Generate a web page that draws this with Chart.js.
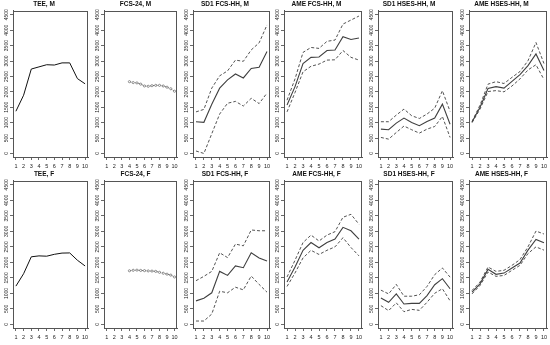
<!DOCTYPE html>
<html>
<head>
<meta charset="utf-8">
<script src="https://cdn.jsdelivr.net/npm/chart.js@4.4.1/dist/chart.umd.min.js"></script>
<style>
  html, body { margin: 0; padding: 0; background: #fff; }
  #wrap { position: relative; width: 550px; height: 345px; overflow: hidden; }
  #wrap canvas { position: absolute; }
</style>
</head>
<body>
<div id="wrap"></div>
<script>
// x axis (deciles 1..10) and y ticks
const xVals = [1, 2, 3, 4, 5, 6, 7, 8, 9, 10];
const fcsX = [4, 4.5, 5, 5.5, 6, 6.5, 7, 7.5, 8, 8.5, 9, 9.5, 10];
const yTicks = [0, 500, 1000, 1500, 2000, 2500, 3000, 3500, 4000, 4500];

// males
const teeM = [1370, 1890, 2740, 2810, 2880, 2870, 2940, 2940, 2430, 2260];
const fcs24M = [2330, 2300, 2290, 2250, 2190, 2180, 2200, 2210, 2210, 2190, 2150, 2100, 2020];
const sd1FcsM = [1030, 1010, 1600, 2120, 2390, 2580, 2450, 2760, 2800, 3310];
const sd1FcsMUp = [1350, 1430, 2120, 2520, 2680, 3030, 2990, 3360, 3590, 4170];
const sd1FcsMLo = [80, 0, 640, 1280, 1630, 1690, 1540, 1790, 1620, 1960];
const ameFcsM = [1570, 2170, 2920, 3120, 3130, 3340, 3360, 3790, 3700, 3750];
const ameFcsMUp = [1730, 2420, 3280, 3440, 3410, 3640, 3680, 4200, 4330, 4460];
const ameFcsMLo = [1350, 1980, 2650, 2830, 2900, 3030, 3040, 3340, 3120, 3030];
const sd1HsesM = [790, 770, 985, 1150, 1005, 900, 1040, 1150, 1600, 950];
const sd1HsesMUp = [1030, 1030, 1245, 1440, 1225, 1135, 1280, 1470, 2035, 1365];
const sd1HsesMLo = [520, 465, 680, 890, 770, 660, 790, 875, 1200, 520];
const ameHsesM = [1020, 1500, 2110, 2170, 2120, 2340, 2560, 2850, 3230, 2690];
const ameHsesMUp = [1040, 1570, 2250, 2330, 2270, 2470, 2660, 3010, 3600, 2920];
const ameHsesMLo = [1000, 1440, 2010, 2040, 2000, 2190, 2420, 2710, 2880, 2400];

// females
const teeF = [1235, 1635, 2180, 2210, 2200, 2260, 2300, 2305, 2070, 1885];
const fcs24F = [1730, 1745, 1750, 1740, 1735, 1725, 1720, 1710, 1680, 1650, 1620, 1590, 1530];
const sd1FcsF = [760, 845, 1020, 1710, 1580, 1885, 1830, 2310, 2145, 2045];
const sd1FcsFUp = [1410, 1550, 1710, 2310, 2155, 2590, 2535, 3045, 3020, 3020];
const sd1FcsFLo = [110, 110, 335, 1070, 1020, 1200, 1115, 1560, 1290, 1040];
const ameFcsF = [1365, 1850, 2390, 2640, 2470, 2640, 2750, 3130, 3020, 2750];
const ameFcsFUp = [1530, 2070, 2640, 2880, 2690, 2880, 2990, 3455, 3550, 3230];
const ameFcsFLo = [1225, 1660, 2145, 2390, 2255, 2390, 2500, 2795, 2480, 2210];
const sd1HsesF = [855, 715, 985, 660, 680, 680, 930, 1280, 1475, 1150];
const sd1HsesFUp = [1105, 985, 1290, 910, 910, 955, 1225, 1605, 1820, 1525];
const sd1HsesFLo = [605, 445, 695, 410, 485, 455, 715, 1005, 1150, 760];
const ameHsesF = [1040, 1310, 1775, 1615, 1655, 1820, 1980, 2395, 2740, 2630];
const ameHsesFUp = [1095, 1365, 1850, 1710, 1745, 1905, 2090, 2500, 3010, 2915];
const ameHsesFLo = [985, 1255, 1690, 1550, 1580, 1745, 1905, 2285, 2500, 2395];

// panel boxes (px)
const boxL = [13, 104, 193, 284, 378, 469];
const boxR = [88, 180, 270, 362, 453, 547];
const boxTop = [11, 181];
const boxBot = [157, 328];
const titleH = 11, yAxisW = 13, xAxisH = 16;

const solid = (y) => ({ x: xVals, y: y, dash: [], color: '#404040', width: 1.1 });
const dashed = (y) => ({ x: xVals, y: y, dash: [3, 2], color: '#404040', width: 0.9 });
const band = (mid, up, lo) => [dashed(up), solid(mid), dashed(lo)];

const panels = [
  { title: 'TEE, M', series: [{ x: xVals, y: teeM, dash: [], color: '#111', width: 1 }] },
  { title: 'FCS-24, M', series: [{ x: fcsX, y: fcs24M, dash: [2, 1], color: '#555', width: 0.8, pts: 1.1 }] },
  { title: 'SD1 FCS-HH, M', series: band(sd1FcsM, sd1FcsMUp, sd1FcsMLo) },
  { title: 'AME FCS-HH, M', series: band(ameFcsM, ameFcsMUp, ameFcsMLo) },
  { title: 'SD1 HSES-HH, M', series: band(sd1HsesM, sd1HsesMUp, sd1HsesMLo) },
  { title: 'AME HSES-HH, M', series: band(ameHsesM, ameHsesMUp, ameHsesMLo) },
  { title: 'TEE, F', series: [{ x: xVals, y: teeF, dash: [], color: '#111', width: 1 }] },
  { title: 'FCS-24, F', series: [{ x: fcsX, y: fcs24F, dash: [2, 1], color: '#555', width: 0.8, pts: 1.1 }] },
  { title: 'SD1 FCS-HH, F', series: band(sd1FcsF, sd1FcsFUp, sd1FcsFLo) },
  { title: 'AME FCS-HH, F', series: band(ameFcsF, ameFcsFUp, ameFcsFLo) },
  { title: 'SD1 HSES-HH, F', series: band(sd1HsesF, sd1HsesFUp, sd1HsesFLo) },
  { title: 'AME HSES-HH, F', series: band(ameHsesF, ameHsesFUp, ameHsesFLo) }
];

// frame round the plot region, like R's box()
const boxPlugin = {
  id: 'box',
  afterDraw(chart) {
    const a = chart.chartArea, ctx = chart.ctx;
    ctx.save();
    ctx.strokeStyle = '#555';
    ctx.lineWidth = 1;
    ctx.strokeRect(Math.round(a.left) + 0.5, Math.round(a.top) + 0.5,
      Math.round(a.right - a.left) - 1, Math.round(a.bottom - a.top) - 1);
    ctx.restore();
  }
};

const fam = '"Liberation Sans Narrow", "Liberation Sans", Arial, sans-serif';
const wrap = document.getElementById('wrap');

panels.forEach((p, i) => {
  const col = i % 6, row = Math.floor(i / 6);
  const cv = document.createElement('canvas');
  const w = boxR[col] - boxL[col] + yAxisW + 2;
  const top = boxTop[row] - titleH;
  const h = boxBot[row] - top + xAxisH;
  cv.width = w; cv.height = h;
  cv.style.left = (boxL[col] - yAxisW) + 'px';
  cv.style.top = top + 'px';
  wrap.appendChild(cv);

  new Chart(cv, {
    type: 'line',
    data: {
      datasets: p.series.map(s => ({
        data: s.x.map((x, k) => ({ x: x, y: s.y[k] })),
        borderColor: s.color,
        borderWidth: s.width,
        borderDash: s.dash,
        pointRadius: s.pts || 0,
        pointBorderWidth: 0.6,
        pointBorderColor: s.color,
        pointBackgroundColor: '#fff',
        fill: false,
        tension: 0
      }))
    },
    options: {
      responsive: false,
      animation: false,
      layout: { padding: { left: 0, right: 2, top: 0, bottom: 0 } },
      plugins: {
        legend: { display: false },
        tooltip: { enabled: false },
        title: {
          display: true,
          text: p.title,
          color: '#111',
          font: { family: fam, size: 6.5, weight: 'bold', lineHeight: 1 },
          padding: { top: 1, bottom: 3 }
        }
      },
      scales: {
        x: {
          type: 'linear',
          min: 0.62, max: 10.38,
          afterBuildTicks: s => { s.ticks = xVals.map(v => ({ value: v })); },
          afterFit: s => { s.height = xAxisH; s.paddingLeft = 0; s.paddingRight = 0; },
          grid: { drawOnChartArea: false, drawTicks: true, tickLength: 3, tickColor: '#444', tickWidth: 0.8 },
          border: { display: true, color: '#555' },
          ticks: {
            font: { family: fam, size: 5.5 }, color: '#222', padding: 3,
            maxRotation: 0, autoSkip: false, callback: v => String(v)
          }
        },
        y: {
          min: -115, max: 4640,
          afterBuildTicks: s => { s.ticks = yTicks.map(v => ({ value: v })); },
          afterFit: s => { s.width = yAxisW; s.paddingTop = 0; s.paddingBottom = 0; },
          grid: { drawOnChartArea: false, drawTicks: true, tickLength: 3, tickColor: '#444', tickWidth: 0.8 },
          border: { display: true, color: '#555' },
          ticks: {
            font: { family: fam, size: 5 }, color: '#222',
            minRotation: 90, maxRotation: 90,
            crossAlign: 'center', padding: -2.5, autoSkip: false,
            callback: v => String(v)
          }
        }
      }
    },
    plugins: [boxPlugin]
  });
});
</script>
</body>
</html>
